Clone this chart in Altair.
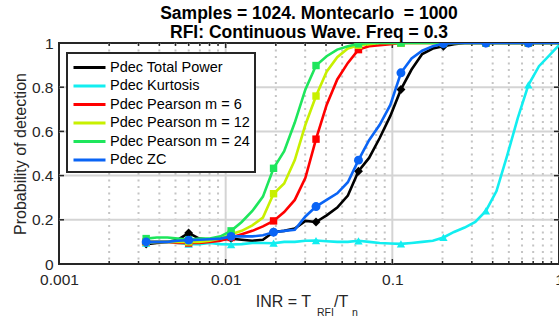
import altair as alt
import pandas as pd

# ---------------- data ----------------
inr = [0.003334, 0.003862, 0.004472, 0.005178, 0.005996, 0.006943, 0.008039, 0.009309,
       0.010779, 0.012481, 0.014454, 0.016736, 0.019379, 0.022440, 0.025984, 0.030088,
       0.034840, 0.040343, 0.046714, 0.054093, 0.062634, 0.072527, 0.083983, 0.097297,
       0.112640, 0.130436, 0.151080, 0.174941, 0.202582, 0.234566, 0.271644, 0.314544,
       0.364256, 0.421730, 0.488527, 0.565588, 0.654886, 0.758316, 0.878213, 1.0]

pdec_total_power = [0.09, 0.095, 0.10, 0.11, 0.14, 0.115, 0.11, 0.11, 0.115, 0.11,
                    0.105, 0.11, 0.145, 0.15, 0.16, 0.195, 0.19, 0.22, 0.255, 0.31,
                    0.42, 0.48, 0.57, 0.67, 0.79, 0.88, 0.95, 0.975, 0.985, 0.995,
                    1, 1, 1, 1, 1, 1, 1, 1, 1, 1]
pdec_kurtosis = [0.095, 0.10, 0.10, 0.095, 0.09, 0.09, 0.095, 0.09, 0.088, 0.09,
                 0.095, 0.095, 0.094, 0.10, 0.10, 0.105, 0.106, 0.103, 0.10, 0.10,
                 0.105, 0.10, 0.095, 0.093, 0.091, 0.095, 0.10, 0.105, 0.12, 0.145,
                 0.165, 0.19, 0.24, 0.33, 0.49, 0.66, 0.81, 0.895, 0.945, 0.99]
pdec_pearson6 = [0.10, 0.10, 0.10, 0.095, 0.095, 0.095, 0.10, 0.105, 0.12, 0.135,
                 0.15, 0.17, 0.195, 0.235, 0.29, 0.39, 0.565, 0.72, 0.835, 0.91,
                 0.97, 0.985, 0.99, 0.995, 1, 1, 1, 1, 1, 1,
                 1, 1, 1, 1, 1, 1, 1, 1, 1, 1]
pdec_pearson12 = [0.10, 0.10, 0.10, 0.10, 0.10, 0.10, 0.105, 0.115, 0.135, 0.15,
                  0.175, 0.21, 0.318, 0.364, 0.47, 0.63, 0.76, 0.87, 0.936, 0.975,
                  0.99, 0.995, 1, 1, 1, 1, 1, 1, 1, 1,
                  1, 1, 1, 1, 1, 1, 1, 1, 1, 1]
pdec_pearson24 = [0.115, 0.12, 0.12, 0.115, 0.11, 0.115, 0.115, 0.125, 0.15, 0.19,
                  0.24, 0.305, 0.433, 0.51, 0.64, 0.79, 0.898, 0.94, 0.97, 0.985,
                  0.996, 1, 1, 1, 1, 1, 1, 1, 1, 1,
                  1, 1, 1, 1, 1, 1, 1, 1, 1, 1]
pdec_zc = [0.10, 0.10, 0.10, 0.105, 0.108, 0.11, 0.112, 0.115, 0.125, 0.125,
           0.125, 0.13, 0.144, 0.15, 0.155, 0.215, 0.26, 0.29, 0.32, 0.37,
           0.47, 0.56, 0.63, 0.72, 0.865, 0.93, 0.965, 0.985, 0.997, 1,
           1, 1, 1, 1, 1, 1, 1, 1, 1, 1]

series_names = ["Pdec Total Power", "Pdec Kurtosis", "Pdec Pearson m = 6",
                "Pdec Pearson m = 12", "Pdec Pearson m = 24", "Pdec ZC"]
series_values = [pdec_total_power, pdec_kurtosis, pdec_pearson6,
                 pdec_pearson12, pdec_pearson24, pdec_zc]

x_tick_values = [0.001, 0.01, 0.1, 1]
x_major_grid = [0.01, 0.1]
x_minor_grid = [0.002, 0.003, 0.004, 0.005, 0.006, 0.007, 0.008, 0.009,
                0.02, 0.03, 0.04, 0.05, 0.06, 0.07, 0.08, 0.09,
                0.2, 0.3, 0.4, 0.5, 0.6, 0.7, 0.8, 0.9]
y_tick_values = [0, 0.2, 0.4, 0.6, 0.8, 1]
y_grid = [0.2, 0.4, 0.6, 0.8]

title_lines = ["Samples = 1024. Montecarlo\u00a0 = 1000", "RFI: Continuous Wave. Freq = 0.3"]
y_title = "Probability of detection"
x_title_parts = ["INR = T", "RFI", "/T", "n"]

# ---------------- styles ----------------
series_colors = ["#000000", "#12EEF0", "#FF0000", "#C8F000", "#1EE65C", "#0A64F5"]
marker_shapes = ["diamond", "triangle-up", "square", "square", "square", "circle"]
marker_sizes = [80, 70, 55, 55, 55, 80]
FONT = "Liberation Sans"
AX = "#262626"
W, H = 500, 221

rows = []
for name, vals in zip(series_names, series_values):
    for i, (xv, yv) in enumerate(zip(inr, vals)):
        rows.append({"series": name, "inr": xv, "pdec": yv, "marker": i % 4 == 0})
df = pd.DataFrame(rows)

xscale = alt.Scale(type="log", domain=[0.001, 1], nice=False)
yscale = alt.Scale(domain=[0, 1], nice=False, zero=False)
color_scale = alt.Scale(domain=series_names, range=series_colors)

x_axis = alt.Axis(values=x_tick_values, format="~g", grid=False, ticks=False, tickSize=0,
                  domain=False, labelFlush=False, labelOverlap=False, labelFontSize=15.5,
                  labelFont=FONT, labelColor=AX, labelPadding=8, title=None)
y_axis = alt.Axis(values=y_tick_values, format="~g", grid=False, ticks=False, tickSize=0,
                  domain=False, labelFontSize=15.5, labelFont=FONT, labelColor=AX,
                  labelPadding=6, title=y_title, titleFontSize=16, titleFont=FONT,
                  titleFontWeight="normal", titleColor=AX, titlePadding=3)

X = alt.X("inr:Q", scale=xscale, axis=x_axis)
Y = alt.Y("pdec:Q", scale=yscale, axis=y_axis)

legend = alt.Legend(title=None, orient="none", legendX=8, legendY=10,
                    symbolType="M-1,0H3", symbolSize=256, symbolStrokeWidth=3,
                    labelFontSize=14.5, labelFont=FONT, labelColor="black",
                    labelOffset=19, padding=5, rowPadding=2.5, labelLimit=300,
                    strokeColor=AX, fillColor="white")

layers = []

# grid
layers.append(alt.Chart(pd.DataFrame({"inr": x_minor_grid})).mark_rule(
    color="#C4C4C4", strokeWidth=2, strokeDash=[2, 4.5]).encode(x=X))
layers.append(alt.Chart(pd.DataFrame({"inr": x_major_grid})).mark_rule(
    color="#D4D4D4", strokeWidth=2).encode(x=X))
layers.append(alt.Chart(pd.DataFrame({"pdec": y_grid})).mark_rule(
    color="#D4D4D4", strokeWidth=2).encode(y=Y))

# inward ticks
layers.append(alt.Chart(pd.DataFrame({"inr": x_major_grid})).mark_rule(
    color=AX, strokeWidth=1.5).encode(x=X, y=alt.value(H), y2=alt.value(H - 5)))
layers.append(alt.Chart(pd.DataFrame({"inr": x_minor_grid})).mark_rule(
    color=AX, strokeWidth=1.5).encode(x=X, y=alt.value(H), y2=alt.value(H - 3)))
layers.append(alt.Chart(pd.DataFrame({"inr": x_major_grid})).mark_rule(
    color=AX, strokeWidth=1.5).encode(x=X, y=alt.value(0), y2=alt.value(5)))
layers.append(alt.Chart(pd.DataFrame({"inr": x_minor_grid})).mark_rule(
    color=AX, strokeWidth=1.5).encode(x=X, y=alt.value(0), y2=alt.value(3)))
layers.append(alt.Chart(pd.DataFrame({"pdec": y_grid})).mark_rule(
    color=AX, strokeWidth=1.5).encode(y=Y, x=alt.value(0), x2=alt.value(5)))
layers.append(alt.Chart(pd.DataFrame({"pdec": y_grid})).mark_rule(
    color=AX, strokeWidth=1.5).encode(y=Y, x=alt.value(W), x2=alt.value(W - 5)))

# series
for name, col, shp, sz in zip(series_names, series_colors, marker_shapes, marker_sizes):
    layers.append(alt.Chart(df).transform_filter(alt.datum.series == name).mark_line(
        strokeWidth=2.6, clip=True).encode(
        x=X, y=Y, color=alt.Color("series:N", scale=color_scale, legend=legend)))
    layers.append(alt.Chart(df).transform_filter(
        (alt.datum.series == name) & alt.datum.marker).mark_point(
        filled=True, shape=shp, size=sz, color=col, opacity=1, clip=True).encode(x=X, y=Y))

# x-axis title with subscripts
xt_pos = [(252, 264, "right", 16), (258, 272.5, "left", 10.5),
          (275, 264, "left", 16), (293, 272.5, "left", 10.5)]
for part, (px, py, al, fs) in zip(x_title_parts, xt_pos):
    layers.append(alt.Chart(pd.DataFrame({"t": [part]})).mark_text(
        align=al, baseline="alphabetic", fontSize=fs, font=FONT, color=AX).encode(
        x=alt.value(px), y=alt.value(py), text="t:N"))

chart = alt.layer(*layers).properties(
    width=W, height=H,
    title=alt.TitleParams(text=title_lines, fontSize=17.5, font=FONT, fontWeight="bold",
                          color="black", anchor="middle", frame="group", offset=0,
                          lineHeight=19, dy=5),
    autosize=alt.AutoSizeParams(type="none"),
    padding={"left": 59, "top": 43, "right": 0, "bottom": 59},
    background="white",
).configure_view(stroke=AX, strokeWidth=2).configure_legend(strokeWidth=2)

chart.save("out.html", embed_options={"renderer": "svg", "actions": False})
